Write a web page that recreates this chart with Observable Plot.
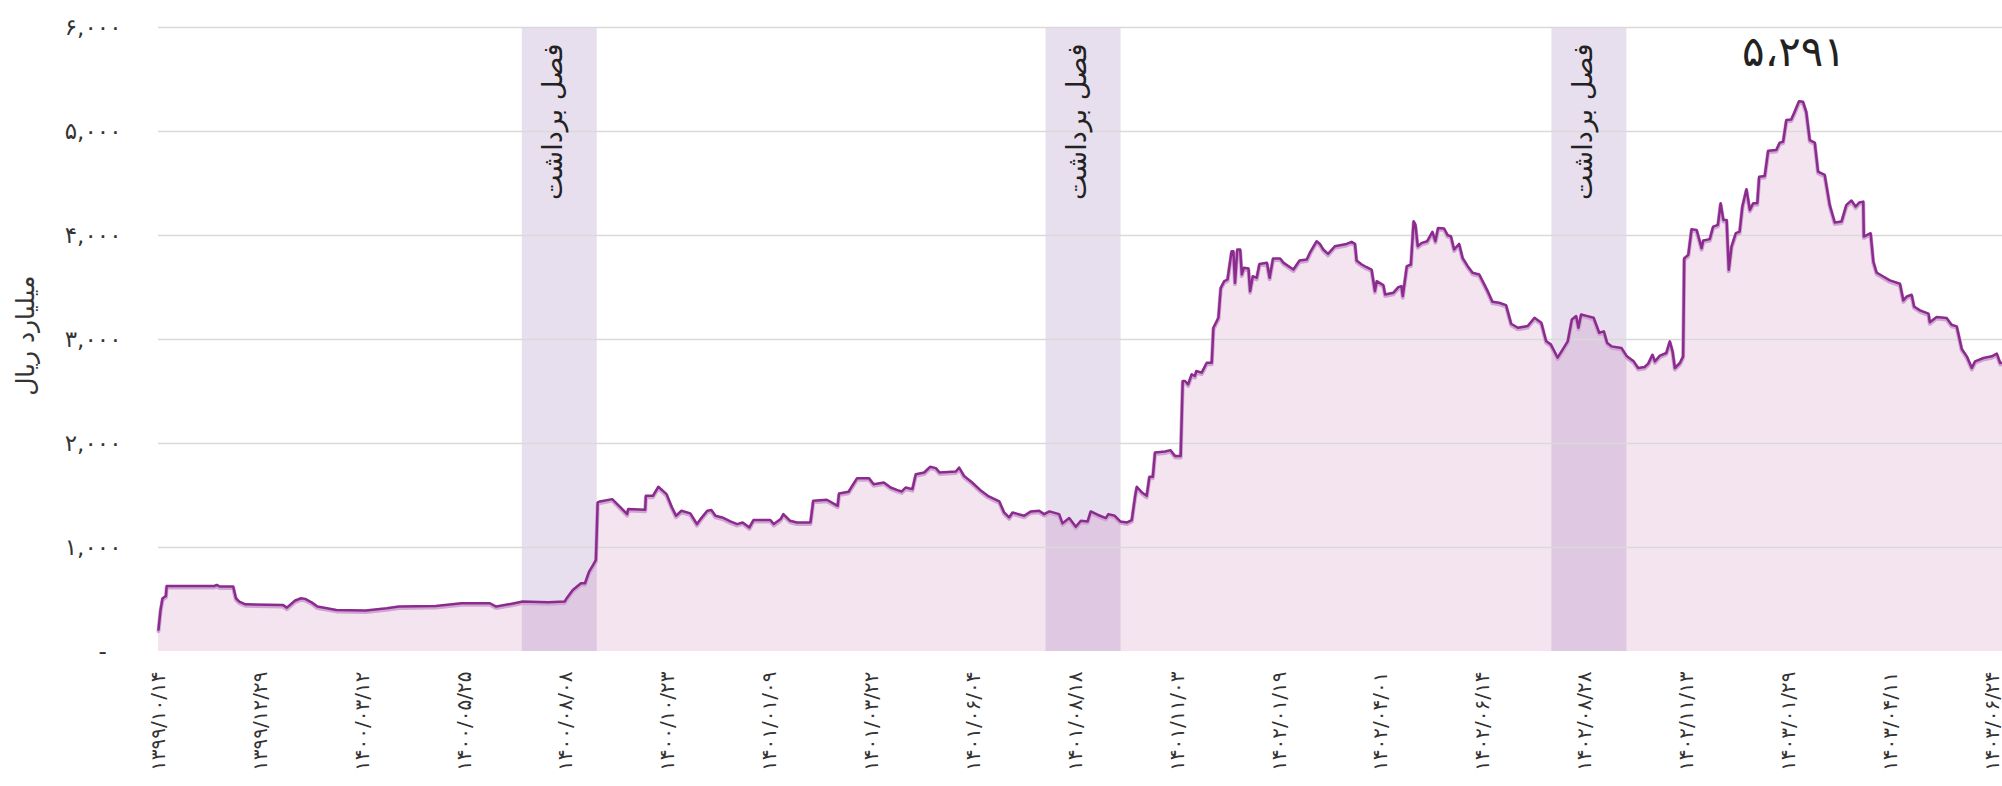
<!DOCTYPE html>
<html><head><meta charset="utf-8">
<script src="https://cdn.jsdelivr.net/npm/d3@7"></script>
<script src="https://cdn.jsdelivr.net/npm/@observablehq/plot@0.6"></script>
<style>
html,body{margin:0;padding:0;background:#fff;overflow:hidden;}
#chart svg{display:block;}
</style></head><body><div id="chart"></div><script>
// Days since ۱۳۹۹/۱۰/۱۴ (calendar days) and value (billion rials)
const days = [0,1.5,3,5.5,6,41,43,45,55,57,59.5,64,91.5,94.5,100.6,105,108,113,117,131,152.5,168,177,204,223,244,248.6,262,268,287,299,300,305,311,314,317,320,322,323.3,
325,334,339,345,345.8,358.3,358.8,364,368,374,378,381,385,391.5,396.4,399,404,407,410,415,421,426,430,435,438,450.4,453,458,460,465,470,480,482,492,500,501,508,514.3,523,526.5,534,539,544,547.2,550,555,557.5,563.7,568,572.3,575,587,589.4,593,599,605.6,610.5,619,622.5,626.2,628.7,637.3,642.2,648.3,652,655.9,663,665.5,670.4,675.3,679,684,686.3,691.3,697.4,
699.3,704,708,713,716.5,719,720.2,724,727.5,729.5,732,733.6,741,745,748.3,752.5,754,755.7,758,760.6,763,764,768,771.7,775.4,776.6,780.3,782,784.6,787,790,791.3,792.5,794.2,796.3,797.5,799,802.4,803.6,805.6,808.5,810.5,816,818,820.5,825.7,828.3,835.5,840,845.3,848,852.6,855,857.5,861,866,874.6,878.3,880.8,882,885.8,889.4,893,895.5,896.8,901.7,903,909,912.7,915,916,919,922,924,925.3,927,930,934,937.8,940,942,946.4,949,951.4,953.8,957.5,960,963.8,967.4,972.3,978.5,982,987,992,995.8,1000.7,1008,1013,1018,1021.5,1025,1030,1033.8,1037.5,1040.5,1043.6,1045.3,1047.3,1052,1056.5,1060.6,
1064,1066.5,1069.7,1077,1081,1086,1089.3,1094,1096.7,1099.8,1101.6,1105.3,1110,1112.6,1114.6,1116.3,1120,1122.4,1123.2,1126.2,1128.6,1132.3,1136,1137.2,1142,1144.5,1148,1150,1152,1154.4,1156,1158,1161.2,1164,1166,1169,1171.5,1174,1177,1178.4,1182.5,1185,1191,1193.5,1196,1198.4,1202,1204.5,1207.7,1210.6,1213,1215.6,1219.3,1221.7,1226.6,1230.3,1234,1239,1242.6,1246.3,1249.4,1252,1255,1255.4,1260.4,1262.4,1264.8,1269.7,1274.6,1282,1284.5,1287,1290.6,1292.4,1296.8,1303,1304,1309,1316.4,1320,1323.8,1327.5,1331.2,1334.9,1337.3,1343.5,1349.6,1353.3,1355.8,1360];
const values = [210,400,512,534,630,630,640,625,624,512,480,454,448,422,490,512,506,470,432,400,394,416,432,438,464,464,432,464,480,474,480,502,592,656,656,768,832,880,1433,
1443,1465,1401,1321,1369,1363,1497,1497,1584,1513,1385,1305,1353,1328,1225,1273,1353,1360,1305,1289,1251,1225,1241,1193,1264,1264,1225,1273,1321,1257,1241,1241,1449,1459,1401,1520,1536,1667,1667,1609,1625,1577,1552,1539,1577,1561,1705,1721,1776,1763,1721,1731,1769,1689,1625,1545,1497,1443,1337,1289,1337,1305,1347,1353,1321,1347,1321,1232,1283,1200,1257,1251,1347,1315,1283,
1321,1305,1251,1241,1264,1497,1584,1529,1497,1680,1680,1913,1923,1936,1881,1881,2601,2601,2569,2665,2649,2697,2681,2777,2777,3113,3209,3497,3561,3577,3849,3849,3545,3865,3865,3625,3689,3683,3465,3609,3593,3727,3737,3593,3779,3779,3737,3673,3759,3769,3843,3945,3919,3865,3823,3897,3919,3939,3919,3759,3721,3695,3673,3465,3561,3523,3433,3449,3503,3513,3417,3705,3721,4137,4105,3897,3929,3945,4035,3945,4073,4067,4003,3993,3865,3919,3785,3705,3641,3625,3465,3362,3353,3331,3151,3113,3129,3209,3161,2985,2953,2825,2905,2985,3193,3225,3113,3241,3225,3209,3065,
3078,2966,2934,2918,2838,2790,2726,2736,2768,2854,2790,2845,2870,2982,2886,2726,2774,2838,3782,3814,4060,4054,3878,3952,3965,4086,4102,4310,4150,4150,3670,3894,4022,4038,4278,4445,4246,4310,4310,4566,4573,4816,4822,4893,4902,5110,5116,5190,5291,5286,5190,4918,4893,4614,4582,4294,4125,4134,4294,4336,4278,4317,4326,3990,4022,3750,3644,3606,3568,3536,3376,3414,3430,3318,3280,3248,3165,3216,3206,3142,3126,2909,2838,2726,2790,2822,2838,2864,2774,2780];

// Harvest-season bands (days)
const bandStart = [267.8, 653.4, 1025.8];
const bandEnd = [323, 708.6, 1081];
const bandLabel = "فصل برداشت";

// Axis ticks
const tickDays = [0,75,150,225,300,375,450,525,600,675,750,825,900,975,1050,1125,1200,1275,1350];
const tickLabels = ["۱۳۹۹/۱۰/۱۴","۱۳۹۹/۱۲/۲۹","۱۴۰۰/۰۳/۱۲","۱۴۰۰/۰۵/۲۵","۱۴۰۰/۰۸/۰۸","۱۴۰۰/۱۰/۲۳","۱۴۰۱/۰۱/۰۹","۱۴۰۱/۰۳/۲۲","۱۴۰۱/۰۶/۰۴","۱۴۰۱/۰۸/۱۸","۱۴۰۱/۱۱/۰۳","۱۴۰۲/۰۱/۱۹","۱۴۰۲/۰۴/۰۱","۱۴۰۲/۰۶/۱۴","۱۴۰۲/۰۸/۲۸","۱۴۰۲/۱۱/۱۳","۱۴۰۳/۰۱/۲۹","۱۴۰۳/۰۴/۱۱","۱۴۰۳/۰۶/۲۴"];
const yTicks = [0,1000,2000,3000,4000,5000,6000];
const yLabel = "میلیارد ریال";

const fa = s => String(s).replace(/\d/g, d => "۰۱۲۳۴۵۶۷۸۹"[+d]);
const data = days.map((d, i) => ({day: d, value: values[i]}));
const bands = bandStart.map((s, i) => ({x1: s, x2: bandEnd[i]}));
const peak = d3.maxIndex(values);

const chart = Plot.plot({
  width: 2002, height: 786,
  marginLeft: 158, marginRight: 0, marginTop: 27, marginBottom: 135,
  style: {fontFamily: "DejaVu Sans", background: "#fff", overflow: "hidden"},
  x: {type: "linear", domain: [0, 1357.5]},
  y: {domain: [0, 6000]},
  marks: [
    Plot.areaY(data, {x: "day", y: "value", fill: "#f4e4f0"}),
    Plot.rect(bands, {x1: "x1", x2: "x2", y1: 0, y2: 6000, fill: "#8a5fa8", fillOpacity: 0.2}),
    Plot.ruleY(yTicks.filter(t => t > 0), {stroke: "#d9d9d9", strokeWidth: 1.5}),
    Plot.lineY(data, {x: "day", y: "value", stroke: "#cfa6d2", strokeWidth: 4, dy: 1.5}),
    Plot.lineY(data, {x: "day", y: "value", stroke: "#8b2b8e", strokeWidth: 2.5}),
    Plot.text(bands, {x: d => (d.x1 + d.x2) / 2, frameAnchor: "top", text: () => bandLabel, rotate: -90,
      textAnchor: "end", lineAnchor: "middle", fontSize: 27, dy: 16, dx: -6, fill: "#222"}),
    Plot.text([peak], {x: i => days[i], y: i => values[i], text: i => fa(d3.format(",")(values[i])).replace(",", "،"),
      dy: -49, dx: -5, fontSize: 42, fontWeight: 500, fill: "#222"}),
    Plot.axisY({ticks: yTicks, tickFormat: d => d === 0 ? "-\u2007" : fa(d3.format(",")(d)),
      tickSize: 0, tickPadding: 37, fontSize: 23, fill: "#333", label: null}),
    Plot.text([yLabel], {frameAnchor: "top-left", dx: -133, dy: 248, rotate: -90, textAnchor: "end",
      lineAnchor: "middle", fontSize: 25, fill: "#333"}),
    Plot.axisX({ticks: tickDays, tickFormat: d => tickLabels[tickDays.indexOf(d)], tickRotate: -90,
      tickSize: 0, tickPadding: 20, fontSize: 20, fill: "#333", label: null})
  ]
});
document.getElementById("chart").appendChild(chart);
</script></body></html>
